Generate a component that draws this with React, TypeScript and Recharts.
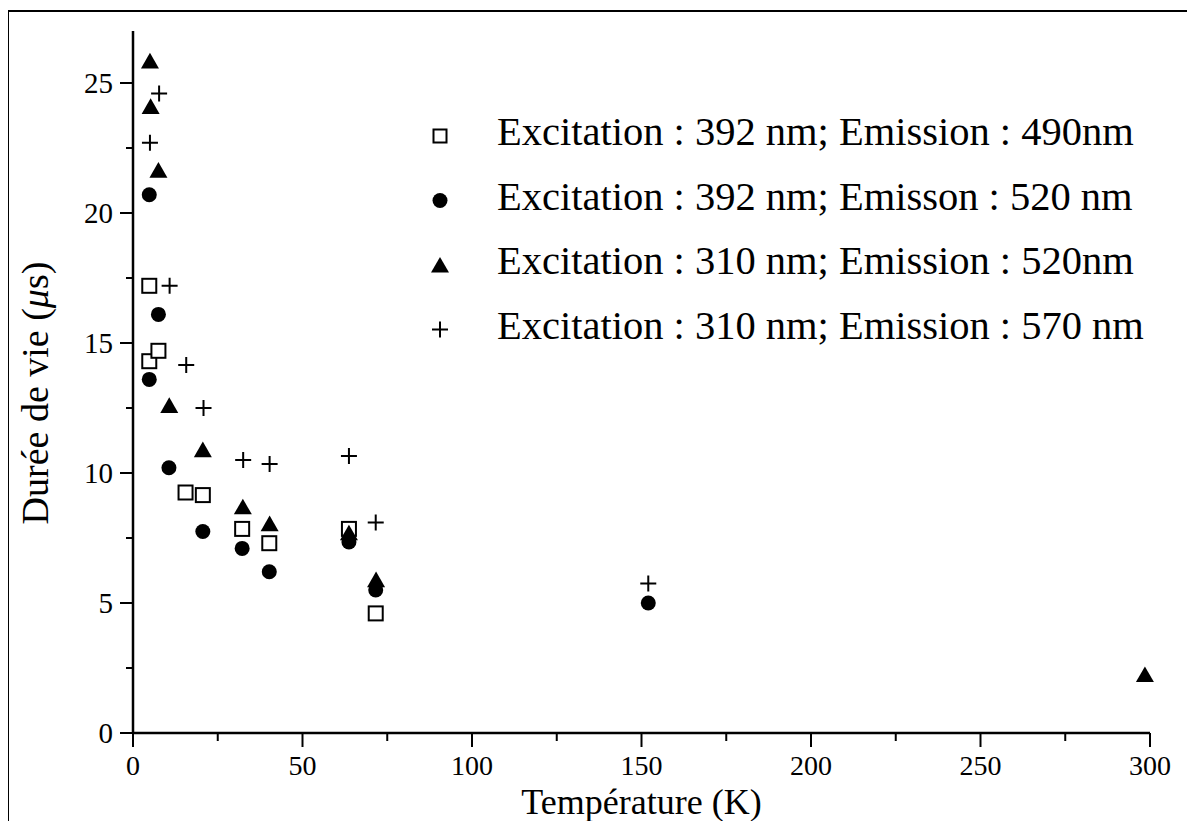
import React from 'react';
import { ScatterChart, Scatter, XAxis, YAxis, Legend } from 'recharts';

// Excitation 392 nm, emission 490 nm (open squares)
const squareTemp = [4.8, 4.8, 7.5, 15.5, 20.6, 32.2, 40.2, 63.7, 71.6];
const squareLife = [17.2, 14.3, 14.7, 9.25, 9.15, 7.85, 7.3, 7.85, 4.6];

// Excitation 392 nm, emission 520 nm (filled circles)
const circleTemp = [4.8, 7.5, 4.8, 10.6, 20.6, 32.2, 40.2, 63.7, 71.6, 152];
const circleLife = [20.7, 16.1, 13.6, 10.2, 7.75, 7.1, 6.2, 7.35, 5.5, 5.0];

// Excitation 310 nm, emission 520 nm (filled triangles)
const triangleTemp = [5.0, 5.2, 7.5, 10.7, 20.6, 32.4, 40.3, 63.7, 71.7, 298.5];
const triangleLife = [25.85, 24.1, 21.65, 12.6, 10.9, 8.7, 8.05, 7.7, 5.9, 2.25];

// Excitation 310 nm, emission 570 nm (crosses)
const plusTemp = [7.7, 5.0, 10.8, 15.7, 20.8, 32.5, 40.3, 63.7, 71.6, 152];
const plusLife = [24.6, 22.7, 17.2, 14.15, 12.5, 10.5, 10.35, 10.65, 8.1, 5.75];

const xTicks = [0, 25, 50, 75, 100, 125, 150, 175, 200, 225, 250, 275, 300];
const yTicks = [0, 2.5, 5, 7.5, 10, 12.5, 15, 17.5, 20, 22.5, 25];

const seriesNames = [
  'Excitation : 392 nm; Emission : 490nm',
  'Excitation : 392 nm; Emisson : 520 nm',
  'Excitation : 310 nm; Emission : 520nm',
  'Excitation : 310 nm; Emission : 570 nm',
];

const FONT = '"Liberation Serif", "Times New Roman", serif';

const toPoints = (xs: number[], ys: number[]) => xs.map((t, i) => ({ t, life: ys[i] }));

const drawSquare = (cx: number, cy: number, s = 13) => (
  <rect x={cx - s / 2} y={cy - s / 2} width={s} height={s} fill="#fff" stroke="#000" strokeWidth={2} />
);
const drawCircle = (cx: number, cy: number, r = 7.5) => <circle cx={cx} cy={cy} r={r} fill="#000" />;
const drawTriangle = (cx: number, cy: number, w = 18) => (
  <polygon points={`${cx},${cy - w * 0.45} ${cx + w / 2},${cy + w * 0.42} ${cx - w / 2},${cy + w * 0.42}`} fill="#000" />
);
const drawPlus = (cx: number, cy: number, s = 16) => (
  <path d={`M${cx - s / 2},${cy}H${cx + s / 2}M${cx},${cy - s / 2}V${cy + s / 2}`} stroke="#000" strokeWidth={2} fill="none" />
);

const symbols = [drawSquare, drawCircle, drawTriangle, drawPlus];

const XTick = (props: any) => {
  const { x, y, payload } = props;
  const major = payload.value % 50 === 0;
  return (
    <g>
      <line x1={x} x2={x} y1={y} y2={y + (major ? 14 : 8)} stroke="#000" strokeWidth={2} />
      {major && (
        <text x={x} y={y + 42} textAnchor="middle" fontSize={28} fontFamily={FONT} fill="#000">
          {payload.value}
        </text>
      )}
    </g>
  );
};

const YTick = (props: any) => {
  const { x, y, payload } = props;
  const major = payload.value % 5 === 0;
  return (
    <g>
      <line x1={x - (major ? 13 : 7)} x2={x} y1={y} y2={y} stroke="#000" strokeWidth={2} />
      {major && (
        <text x={x - 20} y={y + 10} textAnchor="end" fontSize={29} fontFamily={FONT} fill="#000">
          {payload.value}
        </text>
      )}
    </g>
  );
};

const XTitle = (props: any) => {
  const { x, y, width } = props.viewBox;
  return (
    <text x={x + width / 2} y={y + 81} textAnchor="middle" fontSize={36} fontFamily={FONT} fill="#000">
      Température (K)
    </text>
  );
};

const YTitle = () => (
  <text
    transform="translate(48, 393) rotate(-90)"
    textAnchor="middle"
    fontSize={38}
    fontFamily={FONT}
    fill="#000"
  >
    Durée de vie (<tspan fontStyle="italic">μ</tspan>s)
  </text>
);

const LegendBox = () => (
  <svg width={775} height={260} style={{ display: 'block' }}>
    {seriesNames.map((name, i) => {
      const base = 45 + i * 64.5;
      return (
        <g key={name}>
          {symbols[i](20, base - 9)}
          <text x={77} y={base} fontSize={40.5} fontFamily={FONT} fill="#000">
            {name}
          </text>
        </g>
      );
    })}
  </svg>
);

export default function App() {
  return (
    <div style={{ position: 'relative', margin: -8, width: 1195, height: 829, background: '#fff' }}>
      <div
        style={{
          position: 'absolute',
          left: 7,
          top: 10,
          right: 0,
          bottom: 0,
          borderLeft: '2px solid #000',
          borderTop: '2px solid #000',
        }}
      />
      <ScatterChart width={1195} height={829} margin={{ top: 31, right: 45, bottom: 0, left: 0 }}>
        <XAxis
          type="number"
          dataKey="t"
          domain={[0, 300]}
          ticks={xTicks}
          interval={0}
          height={96}
          tickSize={0}
          tickMargin={0}
          tickLine={false}
          tick={<XTick />}
          axisLine={{ stroke: '#000', strokeWidth: 2.5 }}
          label={<XTitle />}
        />
        <YAxis
          type="number"
          dataKey="life"
          domain={[0, 27]}
          ticks={yTicks}
          interval={0}
          width={133}
          tickSize={0}
          tickMargin={0}
          tickLine={false}
          tick={<YTick />}
          axisLine={{ stroke: '#000', strokeWidth: 2.5 }}
          label={<YTitle />}
        />
        <Legend
          layout="horizontal"
          verticalAlign="middle"
          align="center"
          content={<LegendBox />}
          wrapperStyle={{ position: 'absolute', left: 420, top: 100, width: 775 }}
        />
        <Scatter
          name={seriesNames[0]}
          data={toPoints(squareTemp, squareLife)}
          isAnimationActive={false}
          shape={(p: any) => drawSquare(p.cx, p.cy, 14)}
        />
        <Scatter
          name={seriesNames[1]}
          data={toPoints(circleTemp, circleLife)}
          isAnimationActive={false}
          shape={(p: any) => drawCircle(p.cx, p.cy, 7.5)}
        />
        <Scatter
          name={seriesNames[2]}
          data={toPoints(triangleTemp, triangleLife)}
          isAnimationActive={false}
          shape={(p: any) => drawTriangle(p.cx, p.cy, 18)}
        />
        <Scatter
          name={seriesNames[3]}
          data={toPoints(plusTemp, plusLife)}
          isAnimationActive={false}
          shape={(p: any) => drawPlus(p.cx, p.cy, 16)}
        />
      </ScatterChart>
    </div>
  );
}
